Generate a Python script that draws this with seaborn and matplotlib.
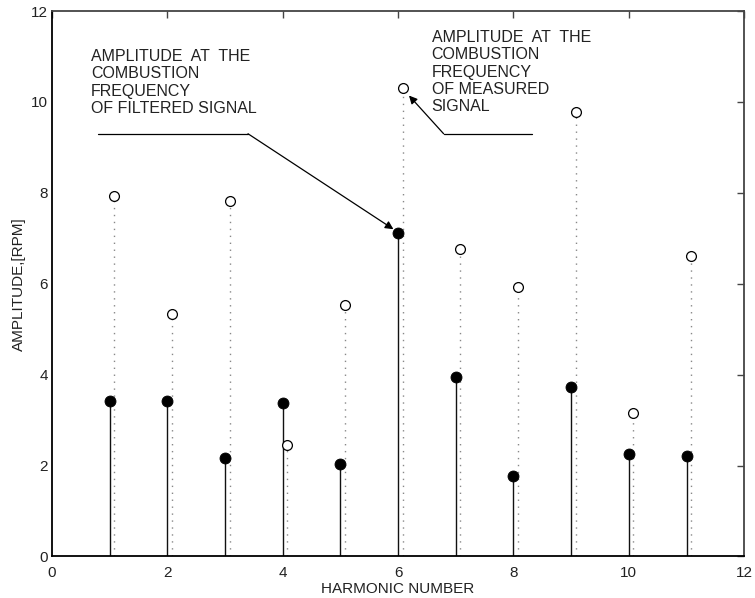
import numpy as np
import pandas as pd
import matplotlib
matplotlib.use('Agg')
import matplotlib.pyplot as plt
import seaborn as sns

# values
harmonic = [1, 2, 3, 4, 5, 6, 7, 8, 9, 10, 11]
filtered_amp = [3.41, 3.41, 2.16, 3.37, 2.03, 7.12, 3.95, 1.78, 3.72, 2.25, 2.21]
measured_amp = [7.93, 5.33, 7.82, 2.46, 5.53, 10.30, 6.77, 5.92, 9.77, 3.15, 6.62]
measured_offset = 0.08  # measured stems drawn just right of the harmonic

sns.set_style("white")
plt.rcParams['font.family'] = ['Liberation Sans', 'DejaVu Sans']

df = pd.DataFrame({'harmonic': harmonic, 'filtered': filtered_amp, 'measured': measured_amp})
df['harmonic_m'] = df['harmonic'] + measured_offset

fig = plt.figure(figsize=(7.55, 5.98), dpi=100)
ax = fig.add_axes([0.0686, 0.0694, 0.9172, 0.9122])

# stems
ax.vlines(df['harmonic_m'], 0, df['measured'], colors='#888888', linestyles=(0, (1, 4)), linewidth=1.0, zorder=1)
ax.vlines(df['harmonic'], 0, df['filtered'], colors='#111111', linewidth=1.0, zorder=2)

# heads
sns.scatterplot(x='harmonic_m', y='measured', data=df, ax=ax, marker='o', s=50,
                facecolor='white', edgecolor='black', linewidth=0.9, zorder=3)
sns.scatterplot(x='harmonic', y='filtered', data=df, ax=ax, marker='o', s=62,
                color='black', edgecolor='black', zorder=4)

ax.set_xlim(0, 12)
ax.set_ylim(0, 12)
ax.set_xticks([0, 2, 4, 6, 8, 10, 12])
ax.set_yticks([0, 2, 4, 6, 8, 10, 12])
ax.tick_params(direction='in', length=5, width=1, top=True, right=True,
               labelsize=11, colors='#444444', labelcolor='#222222')
ax.tick_params(axis='x', pad=7)
ax.tick_params(axis='y', pad=3)
for side in ['left', 'bottom']:
    ax.spines[side].set_color('black')
    ax.spines[side].set_linewidth(1.3)
for side in ['top', 'right']:
    ax.spines[side].set_color('#444444')
    ax.spines[side].set_linewidth(1.3)

ax.set_xlabel('HARMONIC NUMBER', fontsize=11, color='#222222', labelpad=1)
ax.set_ylabel('AMPLITUDE,[RPM]', fontsize=11, color='#222222', labelpad=3)

# annotations
ax.text(0.68, 11.16, 'AMPLITUDE  AT  THE\nCOMBUSTION\nFREQUENCY\nOF FILTERED SIGNAL',
        fontsize=11.5, va='top', ha='left', linespacing=1.19, color='#222222')
ax.plot([0.80, 3.40], [9.30, 9.30], color='black', linewidth=0.9)
ax.annotate('', xy=(5.92, 7.20), xytext=(3.40, 9.30),
            arrowprops=dict(arrowstyle='-|>', color='black', lw=0.9, mutation_scale=12,
                            shrinkA=0, shrinkB=0))

ax.text(6.58, 11.58, 'AMPLITUDE  AT  THE\nCOMBUSTION\nFREQUENCY\nOF MEASURED\nSIGNAL',
        fontsize=11.5, va='top', ha='left', linespacing=1.19, color='#222222')
ax.plot([6.79, 8.33], [9.30, 9.30], color='black', linewidth=0.9)
ax.annotate('', xy=(6.19, 10.14), xytext=(6.79, 9.30),
            arrowprops=dict(arrowstyle='-|>', color='black', lw=0.9, mutation_scale=12,
                            shrinkA=0, shrinkB=0))

fig.savefig('out.png', dpi=100)
